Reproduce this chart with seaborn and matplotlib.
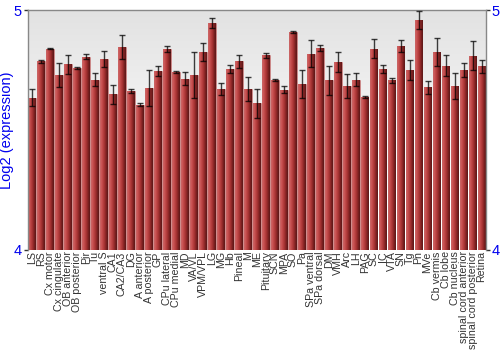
import numpy as np
import pandas as pd
import matplotlib
matplotlib.use("Agg")
import matplotlib.pyplot as plt
import seaborn as sns
from matplotlib.colors import LinearSegmentedColormap

regions = ["LS", "RS", "Cx motor", "Cx cingulate", "OB anterior", "OB posterior", "Pir", "Tu",
           "ventral S", "CA1", "CA2/CA3", "DG", "A anterior", "A posterior", "GP", "CPu lateral",
           "CPu medial", "MD", "VA/VL", "VPM/VPL", "LG", "MG", "Hb", "Pineal", "M", "ME",
           "Pituitary", "SCN", "MPA", "SO", "Pa", "SPa ventral", "SPa dorsal", "DM", "VMH", "Arc",
           "LH", "PAG", "SC", "IC", "VTA", "SN", "Tg", "Pn", "MVe", "Cb vermis", "Cb lobe",
           "Cb nucleus", "spinal cord anterior", "spinal cord posterior", "Retina"]

values = [4.635, 4.786, 4.840, 4.728, 4.774, 4.758, 4.806, 4.710,
          4.797, 4.649, 4.845, 4.663, 4.605, 4.676, 4.746, 4.837,
          4.742, 4.714, 4.728, 4.826, 4.946, 4.672, 4.755, 4.786, 4.671, 4.612,
          4.811, 4.708, 4.669, 4.910, 4.693, 4.819, 4.843, 4.707, 4.783, 4.683,
          4.710, 4.637, 4.840, 4.754, 4.707, 4.850, 4.750, 4.958, 4.678, 4.826, 4.768,
          4.683, 4.751, 4.810, 4.765]

errors = [0.035, 0.008, 0.004, 0.050, 0.040, 0.003, 0.010, 0.028,
          0.033, 0.040, 0.050, 0.008, 0.006, 0.076, 0.019, 0.012,
          0.005, 0.026, 0.096, 0.037, 0.022, 0.024, 0.018, 0.026, 0.050, 0.060,
          0.010, 0.003, 0.014, 0.005, 0.058, 0.058, 0.013, 0.060, 0.043, 0.049,
          0.026, 0.005, 0.041, 0.017, 0.011, 0.025, 0.042, 0.038, 0.026, 0.058, 0.044,
          0.055, 0.028, 0.061, 0.028]

ytick_values = [4, 5]
ylabel = "Log2 (expression)"

df = pd.DataFrame({"region": regions, "value": values, "err": errors})

sns.set_style("white")
plt.rcParams["font.family"] = ["Liberation Sans", "DejaVu Sans"]

fig = plt.figure(figsize=(5, 3.5), dpi=100)
ax = fig.add_axes([0.055, 0.286, 0.917, 0.685])

# background gradient
bg = np.linspace(0, 1, 256).reshape(-1, 1)
bg_cmap = LinearSegmentedColormap.from_list("bg", [(0, "#e2e2e2"), (0.75, "#ffffff"), (1, "#ffffff")])
ax.imshow(bg, aspect="auto", cmap=bg_cmap, extent=[0, 1, 0, 1], transform=ax.transAxes,
          zorder=0, origin="upper")

sns.barplot(data=df, x="region", y="value", color="#b03535", width=0.86, ax=ax,
            errorbar=None, edgecolor="#d08080", linewidth=0.4, zorder=2)

ymin, ymax = 4, 5
bar_cmap = LinearSegmentedColormap.from_list(
    "bar", ["#c86868", "#cc5555", "#b84040", "#a03030", "#7a2020", "#5a1818"])
grad = np.linspace(0, 1, 64).reshape(1, -1)
for p in list(ax.patches):
    x0, y0 = p.get_x(), p.get_y()
    w, h = p.get_width(), p.get_height()
    im = ax.imshow(grad, aspect="auto", cmap=bar_cmap,
                   extent=[x0, x0 + w, max(y0, ymin), min(y0 + h, ymax)],
                   zorder=2.5, origin="lower")
    im.set_clip_path(p)

ax.errorbar(np.arange(len(regions)), values, yerr=errors, fmt="none", ecolor="black",
            alpha=0.75, elinewidth=1, capsize=2, capthick=1, zorder=4)

ax.set_ylim(ymin, ymax)
ax.set_xlim(-0.5, len(regions) - 0.5)
ax.set_yticks(ytick_values)
ax.set_yticklabels([str(v) for v in ytick_values], color="#0000ee", fontsize=10.5)
ax.tick_params(axis="y", left=True, right=True, labelleft=True, labelright=True,
               length=3, width=1, color="#333333", pad=1)
ax.set_xticks(range(len(regions)))
ax.set_xticklabels(regions, rotation=90, fontsize=7.7, color="#333333")
ax.tick_params(axis="x", length=0, pad=1)
ax.set_xlabel("")
ax.set_ylabel(ylabel, color="#0000ee", fontsize=10.5, labelpad=0)

for s in ["left", "right", "top"]:
    ax.spines[s].set_color("#888888")
    ax.spines[s].set_linewidth(1)
ax.spines["bottom"].set_visible(False)

fig.savefig("out.png", dpi=100)
